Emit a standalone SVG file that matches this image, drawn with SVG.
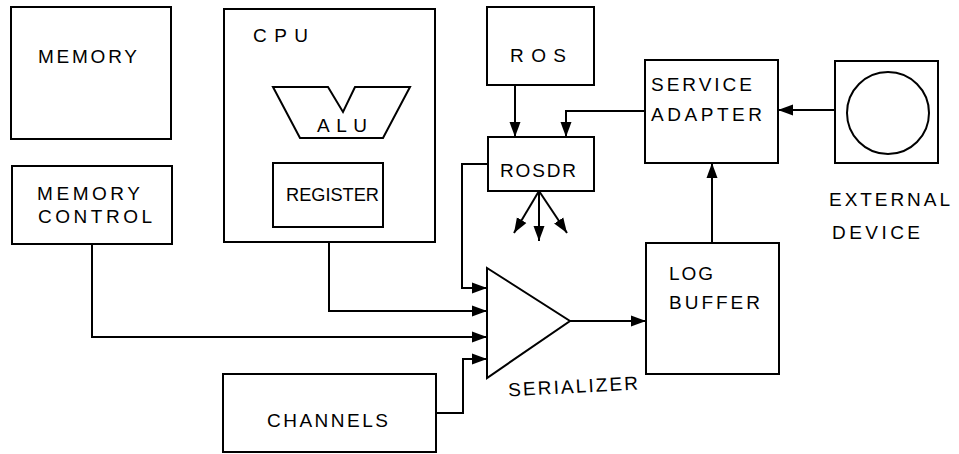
<svg xmlns="http://www.w3.org/2000/svg" width="959" height="454" viewBox="0 0 959 454">
<style>
.b{fill:#fff;stroke:#000;stroke-width:2}
.c{fill:none;stroke:#000;stroke-width:2}
.t{font-family:"Liberation Sans",Arial,sans-serif;fill:#000;font-size:19px}
</style>
<defs>
<marker id="ah" markerUnits="userSpaceOnUse" markerWidth="16" markerHeight="12" refX="15" refY="6" orient="auto">
<path d="M0,0.5 L15,6 L0,11.5 Z" fill="#000"/>
</marker>
</defs>
<rect width="959" height="454" fill="#fff"/>
<g id="memory">
<rect class="b" x="11" y="7" width="160" height="132"/>
<text class="t" x="38" y="63" font-size="21" textLength="99">MEMORY</text>
</g>
<g id="memory-control">
<rect class="b" x="12" y="166" width="160" height="78"/>
<text class="t" x="37" y="200" font-size="20" textLength="103">MEMORY</text>
<text class="t" x="38" y="223" font-size="20" textLength="114">CONTROL</text>
</g>
<g id="cpu">
<rect class="b" x="224" y="9" width="211" height="233"/>
<text class="t" x="253" y="42" font-size="19" textLength="55">CPU</text>
</g>
<g id="alu">
<polygon class="b" points="273,87 328,87 343,112 355,87 410,87 383,138 300,138"/>
<text class="t" x="317" y="132" font-size="18" textLength="50">ALU</text>
</g>
<g id="register">
<rect class="b" x="273" y="163" width="110" height="64"/>
<text class="t" x="286" y="201" font-size="19" textLength="93" lengthAdjust="spacingAndGlyphs">REGISTER</text>
</g>
<g id="ros">
<rect class="b" x="487" y="7" width="107" height="78"/>
<text class="t" x="510" y="62" font-size="21" textLength="56">ROS</text>
</g>
<g id="rosdr">
<rect class="b" x="488" y="137" width="106" height="54"/>
<text class="t" x="500" y="177" font-size="20" textLength="76">ROSDR</text>
</g>
<g id="service-adapter">
<rect class="b" x="645" y="60" width="133" height="103"/>
<text class="t" x="651" y="91" font-size="18" textLength="101">SERVICE</text>
<text class="t" x="651" y="121" font-size="18" textLength="111">ADAPTER</text>
</g>
<g id="external-device">
<rect class="b" x="835" y="61" width="103" height="102"/>
<circle class="b" cx="888" cy="113" r="41"/>
<text class="t" x="829" y="206" font-size="19" textLength="121">EXTERNAL</text>
<text class="t" x="832" y="239" font-size="19" textLength="88">DEVICE</text>
</g>
<g id="log-buffer">
<rect class="b" x="646" y="243" width="133" height="131"/>
<text class="t" x="669" y="280" font-size="17" textLength="44">LOG</text>
<text class="t" x="669" y="309" font-size="17" textLength="91">BUFFER</text>
</g>
<g id="serializer">
<polygon class="b" points="487,268 487,378 570,321"/>
<text class="t" x="508" y="393" font-size="18" textLength="130" transform="rotate(-3 573 385)">SERIALIZER</text>
</g>
<g id="channels">
<rect class="b" x="223" y="374" width="213" height="78"/>
<text class="t" x="267" y="427" font-size="18" textLength="121">CHANNELS</text>
</g>
<g id="connectors">
<path class="c" d="M515,85 V137" marker-end="url(#ah)"/>
<path class="c" d="M645,111 H566 V137" marker-end="url(#ah)"/>
<path class="c" d="M539,191 L514,233" marker-end="url(#ah)"/>
<path class="c" d="M539,191 V241" marker-end="url(#ah)"/>
<path class="c" d="M539,191 L567,233" marker-end="url(#ah)"/>
<path class="c" d="M488,164 H462 V288 H487" marker-end="url(#ah)"/>
<path class="c" d="M329,242 V311 H487" marker-end="url(#ah)"/>
<path class="c" d="M92,244 V337 H487" marker-end="url(#ah)"/>
<path class="c" d="M436,413 H463 V359 H487" marker-end="url(#ah)"/>
<path class="c" d="M570,321 H646" marker-end="url(#ah)"/>
<path class="c" d="M712,243 V163" marker-end="url(#ah)"/>
<path class="c" d="M835,110 H778" marker-end="url(#ah)"/>
</g>
</svg>
